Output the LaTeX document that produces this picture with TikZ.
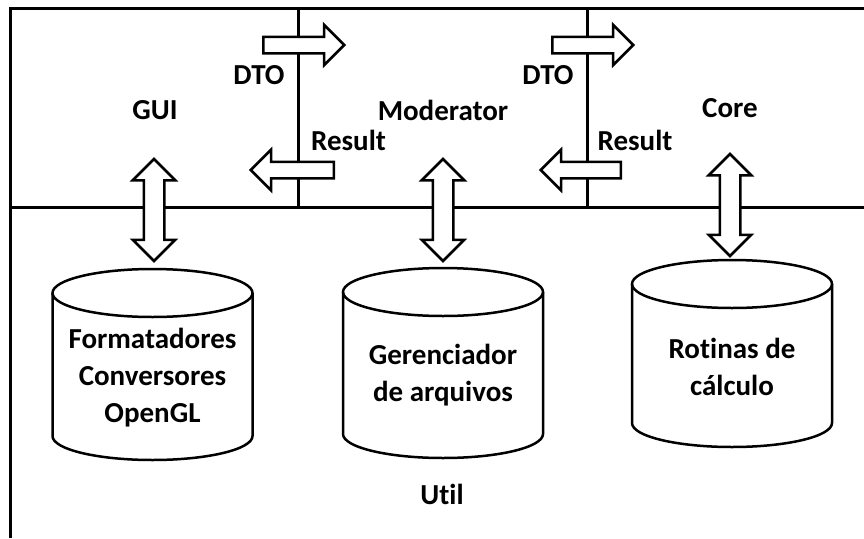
\documentclass[tikz,border=0pt]{standalone}
\usepackage{fontspec}
\setmainfont{Carlito}[Ligatures=NoCommon]
\usetikzlibrary{shapes.arrows}

\begin{document}
\begin{tikzpicture}[x=1pt,y=-1pt]
	% sizes (one unit = one pixel)
	\def\lw{3pt}
	\def\rx{100}
	\def\ry{24}
	% style definition
	\tikzstyle{frame} = [draw, line width=\lw];
	\tikzstyle{label} = [font=\fontsize{29}{37}\selectfont\bfseries, align=center, inner sep=0pt];
	\tikzstyle{flow} = [draw, fill=white, line width=2.5pt, single arrow, single arrow head extend=12pt, single arrow tip angle=90, minimum height=81pt, minimum width=38pt, inner xsep=0pt, inner ysep=7pt];
	\tikzstyle{link} = [draw, fill=white, line width=2.5pt, double arrow, double arrow head extend=11pt, double arrow tip angle=90, minimum height=102pt, minimum width=40pt, inner xsep=0pt, inner ysep=9pt, rotate=90];
	\tikzstyle{cyl} = [draw, line width=2.5pt];
	\useasboundingbox (0,0) rectangle (864,538);
	% layers
	\draw[frame] (10,538) -- (10,8) -- (864,8);
	\draw[frame] (10,207) -- (864,207);
	\draw[frame] (298,8) -- (298,207);
	\draw[frame] (587,8) -- (587,207);
	% layer names
	\node[label] (gui) at (155,110) {GUI};
	\node[label] (mod) at (443,110) {Moderator};
	\node[label] (core) at (730,108) {Core};
	\node[label] (util) at (442,494) {Util};
	% messages between layers
	\node[flow, anchor=tail] (dto1) at (262,45) {};
	\node[flow, anchor=tail, minimum height=83pt, shape border rotate=180] (res1) at (335,170) {};
	\node[flow, anchor=tail] (dto2) at (551,45) {};
	\node[flow, anchor=tail, minimum height=80pt, shape border rotate=180] (res2) at (622,170) {};
	\node[label] (dtot1) at (259,75) {DTO};
	\node[label] (rest1) at (348.5,140) {Result};
	\node[label] (dtot2) at (548,75) {DTO};
	\node[label] (rest2) at (635,140) {Result};
	% storage cylinders
	\foreach \cx/\ty/\by in {152.5/269/460, 443/268/458, 732/260/447} {
		\draw[cyl] (\cx-\rx,\ty+\ry) -- (\cx-\rx,\by-\ry) arc[start angle=180, end angle=0, x radius=\rx, y radius=\ry] -- (\cx+\rx,\ty+\ry);
		\draw[cyl] (\cx,\ty+\ry) ellipse [x radius=\rx, y radius=\ry];
	}
	\node[label] (fmt) at (152.5,378) {Formatadores\\Conversores\\OpenGL};
	\node[label] (ger) at (443,375.5) {Gerenciador\\de arquivos};
	\node[label] (rot) at (732,366.5) {Rotinas de\\cálculo};
	% links from layers to storage
	\node[link] (lgui) at (154,210) {};
	\node[link] (lmod) at (443,210) {};
	\node[link] (lcore) at (730,205) {};
\end{tikzpicture}
\end{document}
